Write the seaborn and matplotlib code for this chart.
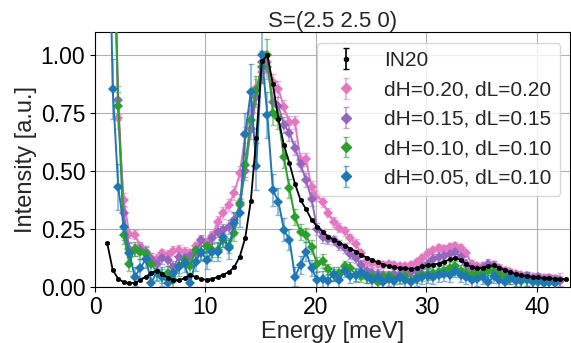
import numpy as np
import pandas as pd
import matplotlib
matplotlib.use("Agg")
import matplotlib.pyplot as plt
import seaborn as sns

nan = np.nan

energy = [1.1, 1.6, 2.1, 2.6, 3.1, 3.6, 4.1, 4.6, 5.1, 5.6,
          6.1, 6.6, 7.1, 7.6, 8.1, 8.6, 9.1, 9.6, 10.1, 10.6,
          11.1, 11.6, 12.1, 12.6, 13.1, 13.6, 14.1, 14.6, 15.1, 15.6,
          16.1, 16.6, 17.1, 17.6, 18.1, 18.6, 19.1, 19.6, 20.1, 20.6,
          21.1, 21.6, 22.1, 22.6, 23.1, 23.6, 24.1, 24.6, 25.1, 25.6,
          26.1, 26.6, 27.1, 27.6, 28.1, 28.6, 29.1, 29.6, 30.1, 30.6,
          31.1, 31.6, 32.1, 32.6, 33.1, 33.6, 34.1, 34.6, 35.1, 35.6,
          36.1, 36.6, 37.1, 37.6, 38.1, 38.6, 39.1, 39.6, 40.1, 40.6,
          41.1, 41.6, 42.1, 42.6]

in20 = [0.19, 0.073, 0.034, 0.02, 0.016, 0.017, 0.028, 0.044, 0.059, 0.07,
        0.055, 0.037, 0.029, 0.028, 0.037, 0.052, 0.042, 0.033, 0.03, 0.034,
        0.042, 0.052, 0.063, 0.085, 0.13, 0.212, 0.37, 0.645, 0.975, 1.0,
        0.875, 0.725, 0.612, 0.533, 0.445, 0.375, 0.335, 0.29, 0.26, 0.238,
        0.217, 0.203, 0.19, 0.178, 0.165, 0.152, 0.138, 0.126, 0.115, 0.105,
        0.096, 0.089, 0.084, 0.081, 0.079, 0.078, 0.08, 0.088, 0.093, 0.096,
        0.1, 0.108, 0.118, 0.124, 0.115, 0.098, 0.085, 0.08, 0.082, 0.09,
        0.092, 0.082, 0.072, 0.062, 0.055, 0.05, 0.046, 0.042, 0.04, 0.038,
        0.036, 0.035, 0.034, 0.033]
in20_err = 0.004

pink = [nan, 1.7, 0.73, 0.375, 0.23, 0.225, 0.175, 0.145, 0.125, 0.12,
        0.145, 0.138, 0.155, 0.16, 0.15, 0.145, 0.175, 0.2, 0.19, 0.22,
        0.28, 0.318, 0.353, 0.405, 0.49, 0.655, 0.75, 0.86, 0.93, 0.97,
        0.885, 0.855, 0.775, 0.71, 0.71, 0.548, 0.55, 0.43, 0.395, 0.365,
        0.32, 0.28, 0.255, 0.24, 0.21, 0.185, 0.145, 0.11, 0.102, 0.1,
        0.095, 0.098, 0.092, 0.088, 0.088, 0.092, 0.105, 0.125, 0.145, 0.158,
        0.168, 0.165, 0.172, 0.178, 0.168, 0.145, 0.1, 0.088, 0.09, 0.095,
        0.095, 0.082, 0.07, 0.062, 0.055, 0.05, 0.047, 0.044, 0.04, 0.038,
        0.036, 0.035, 0.03, nan]
pink_err = [nan, 0.1, 0.05, 0.03, 0.02, 0.02, 0.02, 0.02, 0.02, 0.02,
            0.02, 0.02, 0.02, 0.02, 0.02, 0.02, 0.02, 0.02, 0.02, 0.02,
            0.025, 0.025, 0.025, 0.03, 0.03, 0.035, 0.035, 0.04, 0.04, 0.04,
            0.035, 0.035, 0.03, 0.03, 0.03, 0.03, 0.03, 0.025, 0.025, 0.02,
            0.02, 0.02, 0.02, 0.02, 0.02, 0.02, 0.015, 0.015, 0.015, 0.015,
            0.015, 0.015, 0.015, 0.015, 0.015, 0.015, 0.015, 0.015, 0.015, 0.015,
            0.015, 0.015, 0.015, 0.015, 0.015, 0.015, 0.015, 0.015, 0.015, 0.015,
            0.015, 0.015, 0.015, 0.015, 0.015, 0.015, 0.015, 0.015, 0.015, 0.015,
            0.015, 0.015, 0.03, nan]

purple = [nan, 1.7, 0.806, 0.318, 0.165, 0.16, 0.165, 0.15, 0.12, 0.1,
          0.124, 0.116, 0.085, 0.13, 0.124, 0.135, 0.145, 0.2, 0.175, 0.21,
          0.238, 0.246, 0.26, 0.29, 0.353, 0.5, 0.68, 0.82, 0.97, 0.95,
          0.8, 0.78, 0.7, 0.665, 0.6, 0.53, 0.46, 0.38, 0.25, 0.215,
          0.205, 0.2, 0.18, 0.168, 0.14, 0.124, 0.095, 0.07, 0.06, 0.055,
          0.05, 0.045, 0.055, 0.05, 0.06, 0.065, 0.07, 0.085, 0.1, 0.12,
          0.13, 0.135, 0.14, 0.15, 0.13, 0.1, 0.075, 0.075, 0.08, 0.1,
          0.09, 0.075, 0.065, 0.055, 0.05, 0.04, 0.045, 0.035, 0.04, 0.03,
          0.035, 0.03, 0.025, nan]
purple_err = [nan, 0.1, 0.06, 0.03, 0.025, 0.025, 0.025, 0.025, 0.025, 0.025,
              0.025, 0.025, 0.025, 0.025, 0.025, 0.025, 0.025, 0.025, 0.025, 0.025,
              0.025, 0.025, 0.03, 0.03, 0.03, 0.04, 0.04, 0.045, 0.05, 0.05,
              0.04, 0.04, 0.035, 0.035, 0.03, 0.03, 0.03, 0.03, 0.025, 0.025,
              0.02, 0.02, 0.02, 0.02, 0.02, 0.02, 0.02, 0.02, 0.02, 0.02,
              0.02, 0.02, 0.02, 0.02, 0.02, 0.02, 0.02, 0.02, 0.02, 0.02,
              0.02, 0.02, 0.02, 0.02, 0.02, 0.02, 0.02, 0.02, 0.02, 0.02,
              0.02, 0.02, 0.02, 0.02, 0.02, 0.02, 0.02, 0.02, 0.02, 0.02,
              0.02, 0.02, 0.02, nan]

green = [nan, 1.8, 0.78, 0.224, 0.1, 0.165, 0.15, 0.14, 0.1, 0.06,
         0.045, 0.06, 0.03, 0.088, 0.116, 0.088, 0.16, 0.145, 0.174, 0.16,
         0.16, 0.203, 0.174, 0.231, 0.36, 0.526, 0.72, 0.85, 0.95, 1.0,
         0.75, 0.73, 0.56, 0.425, 0.3, 0.238, 0.224, 0.17, 0.1, 0.11,
         0.075, 0.05, 0.06, 0.088, 0.08, 0.052, 0.045, 0.04, 0.045, 0.02,
         0.04, 0.045, 0.035, 0.04, 0.045, 0.025, 0.04, 0.05, 0.055, 0.06,
         0.065, 0.07, 0.08, 0.088, 0.07, 0.06, 0.05, 0.055, 0.06, 0.068,
         0.065, 0.05, 0.045, 0.035, 0.03, 0.025, 0.03, 0.025, 0.02, 0.025,
         0.02, 0.02, nan, nan]
green_err = [nan, 0.12, 0.06, 0.04, 0.03, 0.03, 0.03, 0.03, 0.03, 0.03,
             0.03, 0.03, 0.03, 0.03, 0.03, 0.03, 0.03, 0.03, 0.03, 0.03,
             0.03, 0.03, 0.03, 0.035, 0.04, 0.05, 0.05, 0.06, 0.07, 0.07,
             0.05, 0.05, 0.045, 0.04, 0.035, 0.035, 0.03, 0.03, 0.03, 0.03,
             0.025, 0.025, 0.025, 0.025, 0.025, 0.025, 0.025, 0.025, 0.025, 0.025,
             0.025, 0.025, 0.025, 0.025, 0.025, 0.025, 0.025, 0.025, 0.025, 0.025,
             0.025, 0.025, 0.025, 0.025, 0.025, 0.025, 0.025, 0.025, 0.025, 0.025,
             0.025, 0.025, 0.025, 0.025, 0.025, 0.025, 0.025, 0.025, 0.025, 0.025,
             0.025, 0.025, nan, nan]

blue = [2.1, 0.855, 0.432, 0.26, 0.145, 0.044, 0.08, 0.12, 0.018, 0.065,
        0.044, 0.016, 0.059, 0.085, 0.102, 0.016, 0.109, 0.152, 0.116, 0.152,
        0.152, 0.217, 0.167, 0.274, 0.318, 0.66, 0.842, 0.52, 1.0, 0.741,
        0.418, 0.368, 0.246, 0.203, 0.044, 0.095, 0.152, 0.08, 0.03, 0.035,
        0.025, 0.055, 0.03, 0.07, 0.045, 0.05, 0.065, 0.045, 0.03, 0.04,
        0.02, 0.035, 0.025, 0.04, 0.03, 0.02, 0.035, 0.04, 0.045, 0.04,
        0.05, 0.055, 0.05, 0.07, 0.05, 0.04, 0.03, 0.035, 0.04, 0.02,
        0.045, 0.03, 0.02, 0.04, 0.025, 0.03, 0.035, 0.02, 0.025, 0.015,
        0.02, 0.015, nan, nan]
blue_err = [0.15, 0.13, 0.1, 0.06, 0.05, 0.04, 0.04, 0.04, 0.04, 0.04,
            0.04, 0.04, 0.04, 0.04, 0.04, 0.04, 0.04, 0.04, 0.04, 0.04,
            0.04, 0.045, 0.045, 0.05, 0.06, 0.09, 0.12, 0.1, 0.12, 0.1,
            0.07, 0.06, 0.05, 0.045, 0.04, 0.04, 0.04, 0.035, 0.035, 0.035,
            0.03, 0.03, 0.03, 0.03, 0.03, 0.03, 0.03, 0.03, 0.03, 0.03,
            0.03, 0.03, 0.03, 0.03, 0.03, 0.03, 0.03, 0.03, 0.03, 0.03,
            0.03, 0.03, 0.03, 0.03, 0.03, 0.03, 0.03, 0.03, 0.03, 0.03,
            0.03, 0.03, 0.03, 0.03, 0.03, 0.03, 0.03, 0.03, 0.03, 0.03,
            0.03, 0.03, nan, nan]

labels = ["IN20", "dH=0.20, dL=0.20", "dH=0.15, dL=0.15",
          "dH=0.10, dL=0.10", "dH=0.05, dL=0.10"]
x_ticks = [0, 10, 20, 30, 40]
y_ticks = [0.0, 0.25, 0.5, 0.75, 1.0]

sns.set_style("ticks")
plt.rcParams['font.family'] = ['Liberation Sans', 'DejaVu Sans']

df = pd.DataFrame({"E": energy, "in20": in20, "pink": pink, "purple": purple,
                   "green": green, "blue": blue})

pal = sns.color_palette("tab10")
series = [("pink", pink_err, pal[6], labels[1]),
          ("purple", purple_err, pal[4], labels[2]),
          ("green", green_err, pal[2], labels[3]),
          ("blue", blue_err, pal[0], labels[4])]

fig = plt.figure(figsize=(5.71, 3.43), dpi=100)
ax = fig.add_axes([0.1664, 0.164, 0.832, 0.742])
ax.grid(True, color="#b0b0b0", linewidth=0.8, zorder=0)
ax.set_axisbelow(True)

handles = []
h = ax.errorbar([nan], [nan], yerr=[nan], fmt="o", color="k", markersize=3,
                elinewidth=1.2, capsize=2, label=labels[0])
handles.append(h)
for key, err, c, lab in series:
    h = ax.errorbar([nan], [nan], yerr=[nan], fmt="D", color=c, markersize=5,
                    ecolor=(*c, 0.6), elinewidth=1.2, capsize=2.5, label=lab)
    handles.append(h)

for key, err, c, lab in series:
    ax.errorbar(df["E"], df[key], yerr=err, fmt="none", ecolor=c, alpha=0.55,
                elinewidth=1.2, capsize=2, zorder=2)
    sns.lineplot(data=df, x="E", y=key, ax=ax, color=c, marker="D",
                 markersize=5, markeredgewidth=0, linewidth=1.4, zorder=3,
                 legend=False)

ax.errorbar(df["E"], df["in20"], yerr=in20_err, fmt="none", ecolor="k",
            elinewidth=1, capsize=1.5, zorder=5)
sns.lineplot(data=df, x="E", y="in20", ax=ax, color="k", marker="o",
             markersize=3.5, markeredgewidth=0, linewidth=1.3, zorder=6,
             legend=False)

ax.set_xlim(0, 43)
ax.set_ylim(0, 1.1)
ax.set_xticks(x_ticks)
ax.set_yticks(y_ticks)
ax.set_yticklabels([f"{v:.2f}" for v in y_ticks])
ax.tick_params(labelsize=16.5, colors="black")
ax.set_xlabel("Energy [meV]", fontsize=17, labelpad=1)
ax.set_ylabel("Intensity [a.u.]", fontsize=17, labelpad=3)
ax.set_title("S=(2.5 2.5 0)", fontsize=16, pad=4)
for s in ax.spines.values():
    s.set_color("black")
ax.legend(handles=handles, labels=labels, loc="upper right", fontsize=15,
          framealpha=0.8)

fig.savefig("out.png", dpi=100)
